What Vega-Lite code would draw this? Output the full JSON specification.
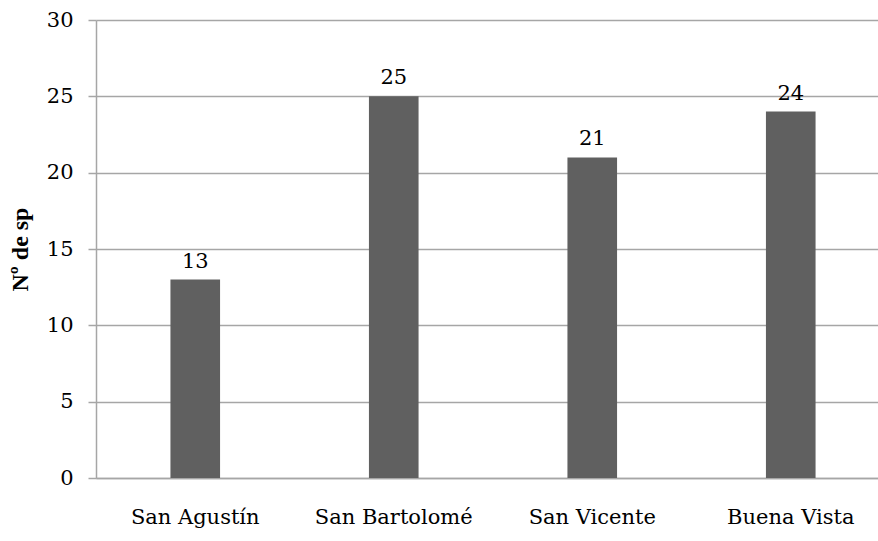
{
  "$schema": "https://vega.github.io/schema/vega-lite/v6.json",
  "autosize": {"type": "none"},
  "padding": {"left": 96, "top": 20, "right": 0, "bottom": 63},
  "width": 794,
  "height": 458,
  "background": "white",
  "config": {
    "view": {"stroke": null}
  },
  "data": {
    "values": [
      {"sitio": "San Agustín", "sp": 13},
      {"sitio": "San Bartolomé", "sp": 25},
      {"sitio": "San Vicente", "sp": 21},
      {"sitio": "Buena Vista", "sp": 24}
    ]
  },
  "encoding": {
    "x": {
      "field": "sitio",
      "type": "nominal",
      "sort": null,
      "scale": {"paddingInner": 0.75, "paddingOuter": 0.375},
      "axis": {
        "title": null,
        "labelAngle": 0,
        "labelFont": "DejaVu Serif",
        "labelFontSize": 21,
        "labelColor": "black",
        "labelPadding": 28,
        "ticks": false,
        "domainColor": "#a6a6a6",
        "domainWidth": 1.5
      }
    },
    "y": {
      "field": "sp",
      "type": "quantitative",
      "scale": {"domain": [0, 30], "nice": false},
      "axis": {
        "values": [0, 5, 10, 15, 20, 25, 30],
        "title": "Nº  de sp",
        "titleFont": "Liberation Serif",
        "titleFontSize": 24,
        "titleFontWeight": "bold",
        "titleColor": "black",
        "titlePadding": 14,
        "labelFont": "DejaVu Serif",
        "labelFontSize": 21,
        "labelColor": "black",
        "labelPadding": 15,
        "tickSize": 8,
        "tickColor": "#a6a6a6",
        "tickWidth": 1.5,
        "domainColor": "#a6a6a6",
        "domainWidth": 1.5,
        "grid": true,
        "gridColor": "#a6a6a6",
        "gridWidth": 1.5
      }
    }
  },
  "layer": [
    {"mark": {"type": "bar", "color": "#606060"}},
    {
      "mark": {"type": "text", "baseline": "bottom", "dy": -8, "fontSize": 21, "font": "DejaVu Serif", "color": "black"},
      "encoding": {"text": {"field": "sp", "type": "quantitative"}}
    }
  ]
}
